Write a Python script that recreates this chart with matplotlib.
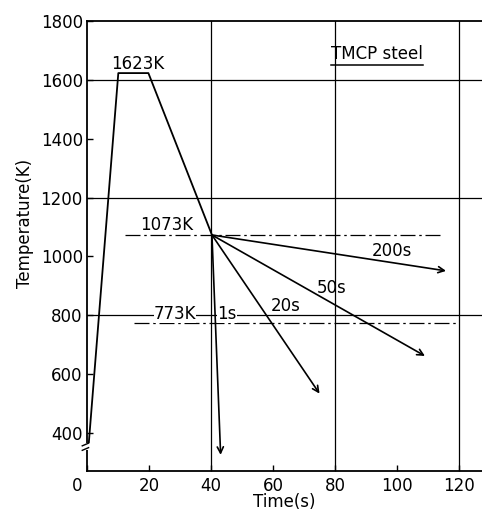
"""
plot.py - thermal cycle schematic for TMCP steel (temperature vs time).
"""
import matplotlib
matplotlib.use("Agg")
import matplotlib.pyplot as plt  # noqa: E402

# ---------------------------------------------------------------------------
# Data
# ---------------------------------------------------------------------------
# heating + hold + cooling to the branching point
cycle_time = [0.6, 10.1, 19.8, 40.3]
cycle_temp = [369, 1623, 1623, 1073]

# cooling branches from (40.3 s, 1073 K): label -> arrow tip
branch_labels = ["1s", "20s", "50s", "200s"]
branch_end_time = [43.1, 75.0, 109.0, 115.8]
branch_end_temp = [326, 534, 662, 951]

# reference (dash-dot) temperature levels: value, x-start, x-end
ref_levels = [1073, 773]
ref_start = [12.3, 15.0]
ref_end = [114.0, 120.0]

x_ticks = [0, 20, 40, 60, 80, 100, 120]
y_ticks = [400, 600, 800, 1000, 1200, 1400, 1600, 1800]
grid_x = [40, 80, 120]
grid_y = [800, 1200, 1600]

FONT = 12
plt.rcParams["font.family"] = ["DejaVu Sans"]

fig = plt.figure(figsize=(4.82, 5.12), dpi=100)
ax = fig.add_axes([0.1805, 0.080, 0.8195, 0.879])
ax.set_xlim(0, 127.4)
ax.set_ylim(271, 1800)

# grid (only every 40 s / 400 K)
for gx in grid_x:
    ax.axvline(gx, color="black", lw=0.9, zorder=1)
for gy in grid_y:
    ax.axhline(gy, color="black", lw=0.9, zorder=1)

# dash-dot reference lines
for lvl, x0, x1 in zip(ref_levels, ref_start, ref_end):
    ax.plot([x0, x1], [lvl, lvl], color="black", lw=0.9,
            linestyle=(0, (12, 3, 2, 3)), zorder=2)

# main cycle
ax.plot(cycle_time, cycle_temp, color="black", lw=1.3, zorder=3)

# cooling branches with open arrowheads
for t1, T1 in zip(branch_end_time, branch_end_temp):
    ax.annotate("", xy=(t1, T1), xytext=(cycle_time[-1], cycle_temp[-1]),
                arrowprops=dict(arrowstyle="->", color="black", lw=1.2,
                                shrinkA=0, shrinkB=0, mutation_scale=11),
                zorder=3)

# labels
white = dict(facecolor="white", edgecolor="none", pad=0.0)
ax.text(16.5, 1653, "1623K", fontsize=FONT, ha="center", va="center")
ax.text(25.8, 1076, "1073K", fontsize=FONT, ha="center", va="bottom",
        bbox=dict(facecolor="white", edgecolor="none", pad=0.2))
ax.text(28.4, 803, "773K", fontsize=FONT, ha="center", va="center",
        bbox=white, zorder=4)
ax.text(45.2, 803, branch_labels[0], fontsize=FONT, ha="center",
        va="center", bbox=white, zorder=4)
ax.text(64.1, 802, branch_labels[1], fontsize=FONT, ha="center",
        va="bottom", zorder=4)
ax.text(79.0, 892, branch_labels[2], fontsize=FONT, ha="center",
        va="center", zorder=4)
ax.text(98.5, 1018, branch_labels[3], fontsize=FONT, ha="center",
        va="center", zorder=4)

title = ax.text(93.5, 1688, "TMCP steel", fontsize=FONT, ha="center",
                va="center", zorder=4)

# axes styling
ax.spines["right"].set_visible(False)
for side in ("left", "bottom", "top"):
    ax.spines[side].set_linewidth(1.3)
ax.set_xticks(x_ticks)
ax.set_yticks(y_ticks)
ax.set_xticklabels([""] + [str(v) for v in x_ticks[1:]])
ax.tick_params(direction="in", length=4, width=1.0, labelsize=FONT,
               top=False, right=False)
ax.tick_params(axis="x", pad=4)
ax.tick_params(axis="y", pad=3)
ax.annotate("0", xy=(0, 0), xycoords=("data", "axes fraction"),
            xytext=(-7, -4), textcoords="offset points", ha="center",
            va="top", fontsize=FONT)
ax.set_xlabel("Time(s)", fontsize=FONT, labelpad=-1)
ax.set_ylabel("Temperature(K)", fontsize=FONT, labelpad=0)
ax.yaxis.set_label_coords(-0.135, 0.55)

# axis break marks on the lower left spine
ax.plot([-0.004, 0.004], [0.055, 0.055], transform=ax.transAxes,
        color="white", lw=5, clip_on=False, zorder=5)
for yb in (0.050, 0.060):
    ax.plot([-0.012, 0.004], [yb - 0.004, yb + 0.002],
            transform=ax.transAxes, color="black", lw=1.0,
            clip_on=False, zorder=6)

# underline for the title
fig.canvas.draw()
bb = title.get_window_extent().transformed(ax.transAxes.inverted())
ax.plot([bb.x0, bb.x1], [bb.y0 - 0.004, bb.y0 - 0.004],
        transform=ax.transAxes, color="black", lw=1.1)

fig.savefig("out.png", dpi=100)
